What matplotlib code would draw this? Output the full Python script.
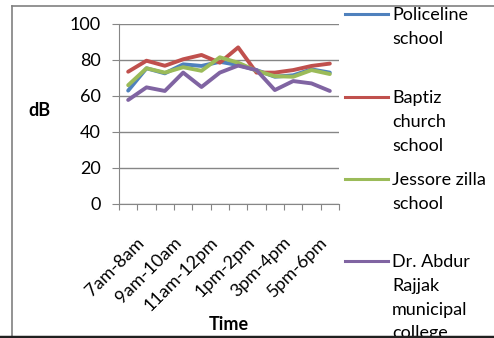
import numpy as np
import matplotlib
matplotlib.use("Agg")
import matplotlib.pyplot as plt
from matplotlib.lines import Line2D
from matplotlib.transforms import ScaledTranslation

plt.rcParams['font.family'] = ['Lato', 'DejaVu Sans']

times = ['7am-8am', '8am-9am', '9am-10am', '10am-11am', '11am-12pm', '12pm-1pm',
         '1pm-2pm', '2pm-3pm', '3pm-4pm', '4pm-5pm', '5pm-6pm', '6pm-7pm']

policeline = [63, 75.4, 72.6, 77.6, 76.7, 79, 77.2, 74.4, 70.7, 71.5, 74.8, 73]
baptiz = [73.5, 79.6, 76.8, 80.4, 82.8, 78.5, 87, 73, 73, 74.4, 76.7, 78]
jessore = [66, 75.4, 73, 76, 74, 81.5, 78.5, 74, 71, 70.7, 74.4, 72.2]
rajjak = [57.8, 64.8, 62.8, 73, 65, 73, 76.9, 74.4, 63.3, 68.3, 67, 62.8]

names = ['Policeline\nschool', 'Baptiz\nchurch\nschool', 'Jessore zilla\nschool',
         'Dr. Abdur\nRajjak\nmunicipal\ncollege']
colors = ['#4F81BD', '#C0504D', '#9BBB59', '#8064A2']
series = [policeline, baptiz, jessore, rajjak]

W, H = 494, 338
fig = plt.figure(figsize=(W / 100, H / 100), dpi=100)
ax = fig.add_axes([119 / W, 1 - 204 / H, 220 / W, 180 / H])

x = np.arange(len(times))
for vals, c in zip(series, colors):
    ax.plot(x, vals, color=c, lw=2.8, solid_capstyle='round', solid_joinstyle='round')

ax.set_xlim(-0.5, len(times) - 0.5)
ax.set_ylim(0, 100)
ax.set_yticks(np.arange(0, 101, 20))
ax.grid(axis='y', color='#868686', lw=1)
ax.set_axisbelow(True)
for s in ['top', 'right']:
    ax.spines[s].set_visible(False)
for s in ['left', 'bottom']:
    ax.spines[s].set_color('#868686')
ax.tick_params(axis='y', length=5, color='#868686', labelsize=13, pad=8)

# category boundaries as ticks, labels on every other category
ax.set_xticks(np.arange(-0.5, len(times), 1.0))
ax.set_xticklabels([])
ax.tick_params(axis='x', which='major', length=4, color='#868686')
ax.set_xticks(x[::2], minor=True)
ax.set_xticklabels(times[::2], minor=True, rotation=45, ha='right',
                   rotation_mode='anchor', fontsize=13)
ax.tick_params(axis='x', which='minor', length=0, pad=14)
shift = ScaledTranslation(8 / 100, -11 / 100, fig.dpi_scale_trans)
for lab in ax.get_xticklabels(minor=True):
    lab.set_transform(lab.get_transform() + shift)

fig.text(39 / W, 1 - 110 / H, 'dB', fontsize=13, fontweight='bold',
         ha='center', va='center')
fig.text(229 / W, 1 - 324 / H, 'Time', fontsize=13, fontweight='bold',
         ha='center', va='center')

# legend
leg_y = [14, 97, 179, 261]
for name, c, ly in zip(names, colors, leg_y):
    fig.add_artist(Line2D([345 / W, 388 / W], [1 - ly / H, 1 - ly / H],
                          transform=fig.transFigure, color=c, lw=2.2))
    fig.text(392 / W, 1 - (ly - 7) / H, name, fontsize=13, ha='left', va='top',
             linespacing=1.6)

# chart frame
fig.add_artist(Line2D([12 / W, 12 / W], [1 - 6 / H, 1 - 336 / H],
                      transform=fig.transFigure, color='#808080', lw=1.2))
fig.add_artist(Line2D([12 / W, 1], [1 - 6 / H, 1 - 6 / H],
                      transform=fig.transFigure, color='#808080', lw=1.2))
fig.add_artist(Line2D([0, 1], [1 - 337 / H, 1 - 337 / H],
                      transform=fig.transFigure, color='#202020', lw=2.5, zorder=10))

fig.savefig('out.png', dpi=100)
